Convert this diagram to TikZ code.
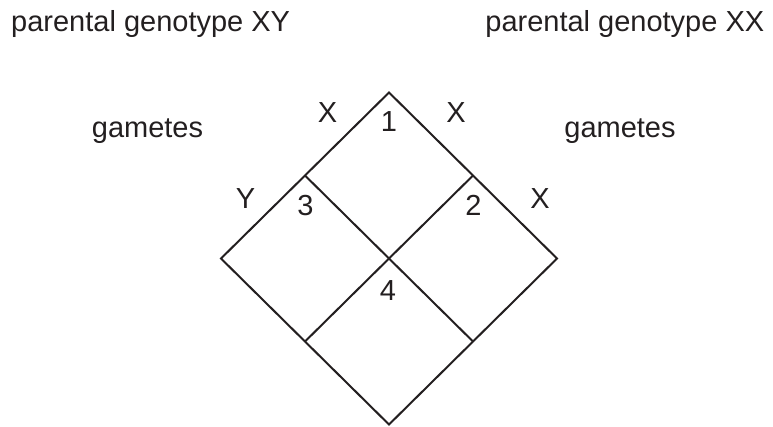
\documentclass[tikz,border=0pt]{standalone}
\usepackage{fontspec}
\setmainfont{Liberation Sans}
\definecolor{ink}{RGB}{35,31,32}
\begin{document}
\begin{tikzpicture}[x=1pt,y=-1pt,
  lbl/.style={inner sep=0pt,anchor=base,text=ink,font=\fontsize{29}{35}\selectfont},
  grid/.style={draw=ink,line width=2pt}]
\useasboundingbox (0,0) rectangle (773,426);
% diamond corners
\coordinate (T) at (389,92.5);
\coordinate (L) at (221,258.5);
\coordinate (R) at (557,258.5);
\coordinate (B) at (389,424.5);
\coordinate (C) at (389,258.5);
\coordinate (UL) at (305,175.5);
\coordinate (UR) at (473,175.5);
\coordinate (LL) at (305,341.5);
\coordinate (LR) at (473,341.5);
\draw[grid] (T) -- (R) -- (B) -- (L) -- cycle;
\draw[grid] (UL) -- (LR);
\draw[grid] (UR) -- (LL);
% texts
\node[lbl,anchor=base west] (p1) at (11,31.5) {parental genotype XY};
\node[lbl,anchor=base east] (p2) at (764.5,31.5) {parental genotype XX};
\node[lbl] (g1) at (147.5,137) {gametes};
\node[lbl] (g2) at (620,137) {gametes};
\node[lbl] (x1) at (327.5,122) {X};
\node[lbl] (x2) at (456,122) {X};
\node[lbl] (y1) at (245.5,208) {Y};
\node[lbl] (x3) at (540,208) {X};
\node[lbl] (n1) at (389,131) {1};
\node[lbl] (n3) at (305.5,215) {3};
\node[lbl] (n2) at (473.5,215) {2};
\node[lbl] (n4) at (388,300) {4};
\end{tikzpicture}
\end{document}
